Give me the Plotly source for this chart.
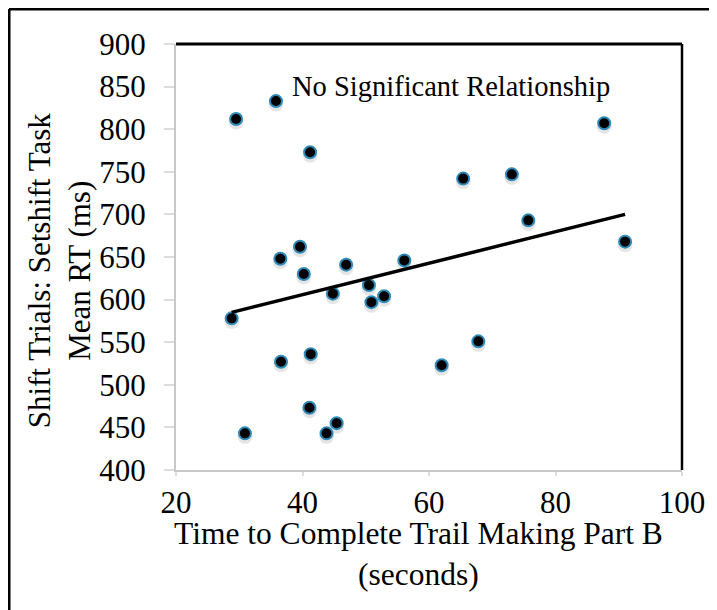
import plotly.graph_objects as go

# Data
tmt_b_seconds = [29.5, 35.8, 41.2, 28.8, 30.9, 36.5, 36.6, 39.6, 40.2, 41.1, 41.3, 43.8, 44.8,
                 45.4, 46.9, 50.5, 50.9, 52.9, 56.1, 62.0, 65.4, 67.8, 73.1, 75.7, 87.7, 91.0]
shift_rt_ms = [812, 833, 773, 578, 443, 648, 527, 662, 630, 473, 536, 443, 607,
               455, 641, 617, 597, 604, 646, 523, 742, 551, 747, 693, 807, 668]
trend_x = [28.8, 91.0]
trend_y = [585, 700]
x_ticks = [20, 40, 60, 80, 100]
y_ticks = [400, 450, 500, 550, 600, 650, 700, 750, 800, 850, 900]

FONT = "Liberation Serif"

fig = go.Figure()

# soft shadow under markers
fig.add_trace(go.Scatter(
    x=tmt_b_seconds, y=[v - 3.5 for v in shift_rt_ms], mode="markers",
    marker=dict(size=15, color="rgba(0,0,0,0.10)", line=dict(width=0)),
    hoverinfo="skip", showlegend=False))
fig.add_trace(go.Scatter(
    x=tmt_b_seconds, y=shift_rt_ms, mode="markers",
    marker=dict(size=12, color="#000000", line=dict(width=2, color="#2f8ab8")),
    showlegend=False))
fig.add_trace(go.Scatter(
    x=trend_x, y=trend_y, mode="lines",
    line=dict(color="#000000", width=3.5), showlegend=False))

fig.update_xaxes(
    range=[20, 100], tickvals=x_ticks, showgrid=False, zeroline=False,
    showline=True, linecolor="#c8c8c8", linewidth=2,
    ticks="outside", ticklen=4, tickcolor="#dcdcdc", tickwidth=1.5,
    tickfont=dict(family=FONT, size=31, color="#000000"))
fig.update_yaxes(
    range=[400, 900], tickvals=y_ticks, showgrid=False, zeroline=False,
    showline=True, linecolor="#c8c8c8", linewidth=2,
    ticks="outside", ticklen=10, tickcolor="#dcdcdc", tickwidth=1.5,
    tickfont=dict(family=FONT, size=31, color="#000000"), ticklabelstandoff=12)

shapes = [
    # top and right borders of the plot area
    dict(type="line", xref="paper", yref="paper", x0=0, x1=1, y0=1, y1=1,
         line=dict(color="#000000", width=3)),
    dict(type="line", xref="paper", yref="paper", x0=1, x1=1, y0=0, y1=1,
         line=dict(color="#000000", width=2.5)),
    # outer chart border (left and top visible)
    dict(type="line", xref="paper", yref="paper", x0=-0.330, x1=-0.330, y0=-2, y1=1.082,
         line=dict(color="#000000", width=3)),
    dict(type="line", xref="paper", yref="paper", x0=-0.330, x1=2, y0=1.082, y1=1.082,
         line=dict(color="#000000", width=3)),
]

annotations = [
    dict(text="No Significant Relationship", x=63.4, y=850, xref="x", yref="y",
         showarrow=False, font=dict(family=FONT, size=28.5, color="#000000")),
    dict(text="Time to Complete Trail Making Part B<br>(seconds)", x=0.48, y=-0.197,
         xref="paper", yref="paper", showarrow=False, xanchor="center", yanchor="middle",
         font=dict(family=FONT, size=31.5, color="#000000")),
    dict(text="Shift Trials: Setshift Task<br>Mean RT (ms)", x=-0.231, y=0.469,
         xref="paper", yref="paper", showarrow=False, textangle=-90,
         xanchor="center", yanchor="middle",
         font=dict(family=FONT, size=31, color="#000000")),
]

fig.update_layout(
    width=709, height=602,
    margin=dict(l=168, r=35, t=36, b=140),
    paper_bgcolor="#ffffff", plot_bgcolor="#ffffff",
    shapes=shapes, annotations=annotations, showlegend=False)

fig.write_html("out.html")
